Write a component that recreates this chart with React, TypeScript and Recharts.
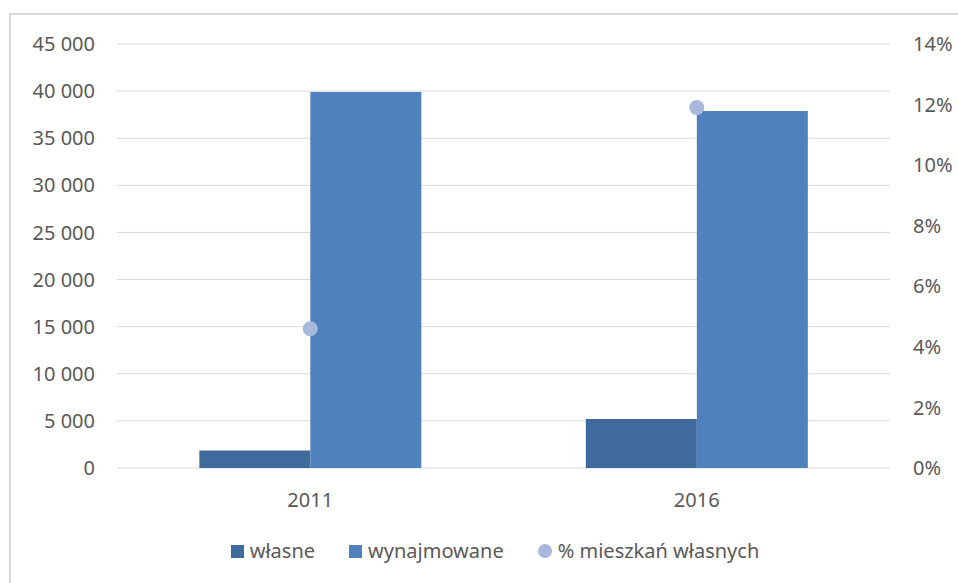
import React from 'react';
import { ComposedChart, Bar, Line, XAxis, YAxis, CartesianGrid, Legend } from 'recharts';

const years = ['2011', '2016'];
const wlasne = [1870, 5200];
const wynajmowane = [39900, 37900];
const pctWlasnych = [0.046, 0.119];
const leftTicks = [0, 5000, 10000, 15000, 20000, 25000, 30000, 35000, 40000, 45000];
const rightTicks = [0, 0.02, 0.04, 0.06, 0.08, 0.1, 0.12, 0.14];
const seriesNames = ['własne', 'wynajmowane', '% mieszkań własnych'];

const COL_WL = '#3F6A9C';
const COL_WY = '#4F81BD';
const COL_PCT = '#A7B8DA';
const TXT = '#595959';
const FONT = '"Noto Sans", "Open Sans", sans-serif';

const data = years.map((y, i) => ({
  year: y,
  wlasne: wlasne[i],
  wynajmowane: wynajmowane[i],
  pct: pctWlasnych[i],
}));

const fmtThousands = (v: number) => String(v).replace(/\B(?=(\d{3})+(?!\d))/g, ' ');
const fmtPct = (v: number) => `${Math.round(v * 100)}%`;

const LegendContent = () => {
  const items = [
    { name: seriesNames[0], color: COL_WL, type: 'square' },
    { name: seriesNames[1], color: COL_WY, type: 'square' },
    { name: seriesNames[2], color: COL_PCT, type: 'circle' },
  ];
  return (
    <div
      style={{
        display: 'flex',
        justifyContent: 'center',
        alignItems: 'center',
        height: 30,
        paddingLeft: 32,
        fontFamily: FONT,
        fontSize: 20,
        color: TXT,
      }}
    >
      {items.map((it, i) => (
        <div key={it.name} style={{ display: 'flex', alignItems: 'center', marginLeft: i === 0 ? 0 : 34 }}>
          <div
            style={{
              width: it.type === 'circle' ? 14 : 13,
              height: it.type === 'circle' ? 14 : 13,
              borderRadius: it.type === 'circle' ? 7 : 0,
              background: it.color,
              marginRight: 6,
            }}
          />
          <span style={{ lineHeight: '30px' }}>{it.name}</span>
        </div>
      ))}
    </div>
  );
};

export default function App() {
  return (
    <div style={{ position: 'absolute', left: 0, top: 0, width: 958, height: 583, overflow: 'hidden', background: '#fff', fontFamily: FONT }}>
      <div
        style={{
          position: 'absolute',
          left: 9,
          top: 13,
          width: 1000,
          height: 1000,
          borderLeft: '2px solid #D9D9D9',
          borderTop: '2px solid #D9D9D9',
        }}
      />
      <ComposedChart
        width={958}
        height={583}
        data={data}
        margin={{ top: 44, right: 0, left: 0, bottom: 17 }}
        barCategoryGap="21.3%"
        barGap={0}
        style={{ position: 'absolute', left: 0, top: 0 }}
      >
        <CartesianGrid yAxisId="left" vertical={false} stroke="#D9D9D9" strokeWidth={1} />
        <XAxis
          dataKey="year"
          height={68}
          tickSize={0}
          tickMargin={25}
          axisLine={false}
          tick={{ fill: TXT, fontSize: 20, fontFamily: FONT }}
        />
        <YAxis
          yAxisId="left"
          width={117}
          domain={[0, 45000]}
          ticks={leftTicks}
          tickFormatter={fmtThousands}
          tickSize={0}
          tickMargin={22}
          axisLine={false}
          tick={{ fill: TXT, fontSize: 20, fontFamily: FONT }}
          interval={0}
        />
        <YAxis
          yAxisId="right"
          orientation="right"
          width={68}
          domain={[0, 0.14]}
          ticks={rightTicks}
          tickFormatter={fmtPct}
          tickSize={0}
          tickMargin={23}
          axisLine={false}
          tick={{ fill: TXT, fontSize: 20, fontFamily: FONT }}
          interval={0}
        />
        <Legend verticalAlign="bottom" height={30} content={<LegendContent />} />
        <Bar yAxisId="left" dataKey="wlasne" name={seriesNames[0]} fill={COL_WL} isAnimationActive={false} />
        <Bar yAxisId="left" dataKey="wynajmowane" name={seriesNames[1]} fill={COL_WY} isAnimationActive={false} />
        <Line
          yAxisId="right"
          dataKey="pct"
          name={seriesNames[2]}
          stroke="none"
          strokeWidth={0}
          dot={{ r: 7.5, fill: COL_PCT, stroke: 'none' }}
          activeDot={false}
          isAnimationActive={false}
        />
      </ComposedChart>
    </div>
  );
}
